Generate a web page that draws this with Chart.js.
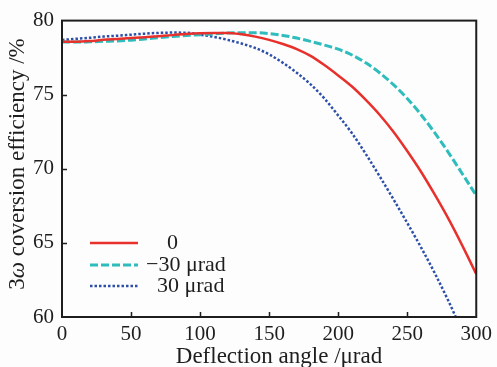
<!DOCTYPE html>
<html lang="en">
<head>
    <meta charset="UTF-8">
    <title>3w conversion efficiency vs deflection angle</title>
    <script src="https://cdn.jsdelivr.net/npm/chart.js@4.4.1/dist/chart.umd.min.js"></script>
    <style>
        html, body { margin: 0; padding: 0; background: #fdfdfd; }
        .chart-container { position: relative; width: 497px; height: 367px; }
    </style>
</head>
<body>
    <div class="chart-container">
        <canvas id="effChart"></canvas>
    </div>

    <script>
        // Deflection angle (urad)
        const angles = [0, 10, 20, 30, 40, 50, 60, 70, 80, 90, 100, 110, 120, 130, 140, 150,
                        160, 170, 180, 190, 200, 210, 220, 230, 240, 250, 260, 270, 280, 290, 300];

        // 3w conversion efficiency (%) for each pointing error
        const eff0 = [78.58, 78.58, 78.62, 78.70, 78.76, 78.82, 78.88, 78.95, 79.02, 79.10, 79.15, 79.17, 79.17, 79.08, 78.92, 78.70,
                      78.42, 78.08, 77.62, 77.00, 76.30, 75.55, 74.65, 73.65, 72.50, 71.20, 69.80, 68.25, 66.60, 64.80, 62.90];
        const effMinus30 = [78.55, 78.55, 78.57, 78.60, 78.63, 78.68, 78.76, 78.85, 78.93, 79.00, 79.05, 79.10, 79.16, 79.18, 79.18, 79.12,
                            79.00, 78.82, 78.60, 78.35, 78.07, 77.68, 77.15, 76.48, 75.68, 74.75, 73.65, 72.42, 71.08, 69.65, 68.20];
        const effPlus30 = [78.69, 78.77, 78.84, 78.92, 78.98, 79.05, 79.12, 79.17, 79.19, 79.18, 79.05, 78.90, 78.70, 78.45, 78.15, 77.72,
                           77.15, 76.48, 75.70, 74.75, 73.60, 72.40, 71.00, 69.50, 67.95, 66.35, 64.70, 62.95, 61.05, 59.00, null];

        const seriesLabels = ['0', '\u221230 \u03bcrad', '30 \u03bcrad'];
        const xTicks = [0, 50, 100, 150, 200, 250, 300];
        const yTicks = [60, 65, 70, 75, 80];

        const serif = '"Liberation Serif", "DejaVu Serif", serif';
        const ink = '#1e1e1e';

        function toPoints(values) {
            return angles.map((a, i) => ({ x: a, y: values[i] }));
        }

        // frame, inward ticks, legend and axis titles
        const decorations = {
            id: 'decorations',
            beforeDraw(chart) {
                const ctx = chart.ctx;
                ctx.save();
                ctx.fillStyle = '#fdfdfd';
                ctx.fillRect(0, 0, chart.width, chart.height);
                ctx.restore();
            },
            afterDatasetsDraw(chart) {
                const ctx = chart.ctx;
                const area = chart.chartArea;
                const xs = chart.scales.x;
                const ys = chart.scales.y;
                ctx.save();

                // box
                ctx.strokeStyle = ink;
                ctx.lineWidth = 2;
                ctx.strokeRect(area.left, area.top, area.right - area.left, area.bottom - area.top);

                // inward ticks
                ctx.lineWidth = 1.5;
                ctx.beginPath();
                xTicks.slice(1, -1).forEach(v => {
                    const px = Math.round(xs.getPixelForValue(v)) + 0.5;
                    ctx.moveTo(px, area.bottom);
                    ctx.lineTo(px, area.bottom - 5);
                });
                yTicks.slice(1, -1).forEach(v => {
                    const py = Math.round(ys.getPixelForValue(v)) + 0.5;
                    ctx.moveTo(area.left, py);
                    ctx.lineTo(area.left + 5, py);
                });
                ctx.stroke();

                // legend
                const rows = [
                    { y: 243, textX: 167 },
                    { y: 265, textX: 146 },
                    { y: 286, textX: 157 }
                ];
                chart.data.datasets.forEach((ds, i) => {
                    const r = rows[i];
                    ctx.strokeStyle = ds.borderColor;
                    ctx.lineWidth = ds.borderWidth;
                    ctx.setLineDash(ds.borderDash || []);
                    ctx.beginPath();
                    ctx.moveTo(90, r.y);
                    ctx.lineTo(138, r.y);
                    ctx.stroke();
                    ctx.setLineDash([]);
                    ctx.fillStyle = ink;
                    ctx.font = '22px ' + serif;
                    ctx.textAlign = 'left';
                    ctx.textBaseline = 'middle';
                    ctx.fillText(ds.label, r.textX, r.y);
                });

                // x title
                ctx.fillStyle = ink;
                ctx.font = '23px ' + serif;
                ctx.textAlign = 'center';
                ctx.textBaseline = 'middle';
                ctx.fillText('Deflection angle /\u03bcrad', 279, 357);

                // y title with italic omega
                ctx.translate(18, 164);
                ctx.rotate(-Math.PI / 2);
                const parts = [
                    { t: '3', f: '23px ' + serif },
                    { t: '\u03c9', f: 'italic 23px ' + serif },
                    { t: ' coversion efficiency /%', f: '23px ' + serif }
                ];
                let total = 0;
                parts.forEach(p => { ctx.font = p.f; p.w = ctx.measureText(p.t).width; total += p.w; });
                let x = -total / 2;
                ctx.textAlign = 'left';
                parts.forEach(p => {
                    ctx.font = p.f;
                    ctx.fillText(p.t, x, 0);
                    x += p.w;
                });

                ctx.restore();
            }
        };

        const ctx = document.getElementById('effChart').getContext('2d');
        new Chart(ctx, {
            type: 'line',
            data: {
                datasets: [
                    {
                        label: seriesLabels[0],
                        data: toPoints(eff0),
                        borderColor: '#e8302c',
                        borderWidth: 2.5,
                        pointRadius: 0,
                        cubicInterpolationMode: 'monotone'
                    },
                    {
                        label: seriesLabels[1],
                        data: toPoints(effMinus30),
                        borderColor: '#2ebcbc',
                        borderWidth: 3,
                        borderDash: [8, 3],
                        pointRadius: 0,
                        cubicInterpolationMode: 'monotone'
                    },
                    {
                        label: seriesLabels[2],
                        data: toPoints(effPlus30),
                        borderColor: '#2c4fa8',
                        borderWidth: 2.5,
                        borderDash: [2.5, 2],
                        pointRadius: 0,
                        cubicInterpolationMode: 'monotone'
                    }
                ]
            },
            options: {
                responsive: true,
                maintainAspectRatio: false,
                animation: false,
                layout: { padding: { top: 13, right: 20, left: 0, bottom: 0 } },
                plugins: {
                    legend: { display: false },
                    tooltip: { enabled: false }
                },
                scales: {
                    x: {
                        type: 'linear',
                        min: 0,
                        max: 300,
                        afterBuildTicks: s => { s.ticks = xTicks.map(v => ({ value: v })); },
                        afterFit: s => { s.height = 50; },
                        grid: { display: false, drawTicks: false },
                        border: { display: false },
                        ticks: {
                            padding: 5,
                            color: ink,
                            font: { family: serif, size: 21 },
                            maxRotation: 0
                        }
                    },
                    y: {
                        min: 60,
                        max: 80,
                        afterBuildTicks: s => { s.ticks = yTicks.map(v => ({ value: v })); },
                        afterFit: s => { s.width = 62; },
                        grid: { display: false, drawTicks: false },
                        border: { display: false },
                        ticks: {
                            padding: 8,
                            color: ink,
                            font: { family: serif, size: 21 }
                        }
                    }
                }
            },
            plugins: [decorations]
        });
    </script>
</body>
</html>
